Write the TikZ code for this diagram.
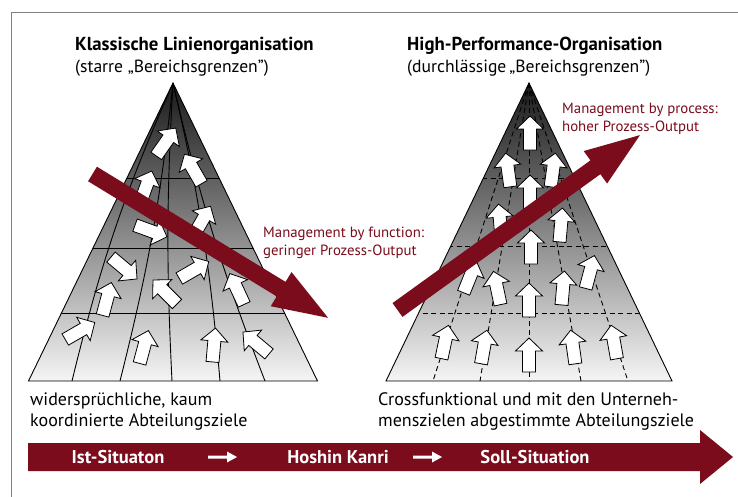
\documentclass[tikz,border=0pt]{standalone}
\usepackage{fontspec}
\setmainfont{PT Sans}
\usetikzlibrary{calc}
\definecolor{wine}{RGB}{122,12,28}
\definecolor{framegray}{RGB}{128,128,128}
\tikzset{
  barrow/.pic={\filldraw[fill=white,draw=black,line width=0.8pt]
     (-6.5,17) -- (-6.5,-4) -- (-13.5,-4) -- (0,-17) -- (13.5,-4) -- (6.5,-4) -- (6.5,17) -- cycle;},
  gridline/.style={black,line width=0.9pt},
  dgrid/.style={black,line width=0.9pt,dash pattern=on 5pt off 3.5pt},
  titletxt/.style={anchor=base west,inner sep=0pt,font=\fontsize{18.8}{22}\selectfont\bfseries},
  subtxt/.style={anchor=base west,inner sep=0pt,font=\fontsize{17.6}{21}\selectfont},
  bottxt/.style={anchor=base west,inner sep=0pt,align=left,font=\fontsize{18}{21}\selectfont},
  redtxt/.style={anchor=base west,inner sep=0pt,align=left,text=wine,font=\fontsize{14.8}{18.5}\selectfont},
  bartxt/.style={anchor=base,inner sep=0pt,text=white,font=\fontsize{18.5}{21}\selectfont\bfseries},
}
\begin{document}
\begin{tikzpicture}[x=1pt,y=-1pt]
\useasboundingbox (0,0) rectangle (738,497);
\fill[white] (0,0) rectangle (738,497);
% frame
\draw[framegray,line width=1.3pt] (11.5,497) -- (11.5,12.5) -- (738,12.5);

% ---------- left pyramid ----------
\coordinate (LA) at (173,83);
\coordinate (LBl) at (28.5,381);
\coordinate (LBr) at (317.5,381);
\shade[top color=black!90,bottom color=black!4] (LA) -- (LBr) -- (LBl) -- cycle;
\begin{scope}
\clip (LA) -- (LBr) -- (LBl) -- cycle;
\draw[gridline] (20,178) -- (330,178);
\draw[gridline] (20,248) -- (330,248);
\draw[gridline] (20,313) -- (330,313);
\draw[gridline] (LA) to[bend right=5] (72,381);
\draw[gridline] (LA) to[bend left=4] (120,381);
\draw[gridline] (LA) to[bend right=3] (172,381);
\draw[gridline] (LA) to[bend left=4] (220,381);
\draw[gridline] (LA) to[bend right=4] (265,381);
\end{scope}
\draw[black,line width=0.9pt] (LA) -- (LBr) -- (LBl) -- cycle;

% arrows in left pyramid (negative = tilted right on screen)
\pic[rotate=-35] at (166,142) {barrow};
\pic[rotate=30] at (193,169) {barrow};
\pic[rotate=-20] at (146,187) {barrow};
\pic[rotate=-110] at (151,231) {barrow};
\pic[rotate=-30] at (202,221) {barrow};
\pic[rotate=-130] at (124,268) {barrow};
\pic[rotate=-60] at (194,270) {barrow};
\pic[rotate=45] at (165,292) {barrow};
\pic[rotate=-15] at (107,299) {barrow};
\pic[rotate=25] at (237,289) {barrow};
\pic[rotate=-60] at (80,331) {barrow};
\pic[rotate=-15] at (144,347) {barrow};
\pic[rotate=-5] at (214,345) {barrow};
\pic[rotate=50] at (256,343) {barrow};

% red arrow left
\fill[wine,shift={(92.5,174)},rotate=-31.4]
  (0,-8.5) -- (221,-8.5) -- (221,-20) -- (276,0) -- (221,20) -- (221,8.5) -- (0,8.5) -- cycle;

% ---------- right pyramid ----------
\coordinate (RA) at (529,83);
\coordinate (RBl) at (386,381);
\coordinate (RBr) at (672,381);
\shade[top color=black!90,bottom color=black!4] (RA) -- (RBr) -- (RBl) -- cycle;
\begin{scope}
\clip (RA) -- (RBr) -- (RBl) -- cycle;
\draw[dgrid] (380,178) -- (680,178);
\draw[dgrid] (380,246) -- (680,246);
\draw[dgrid] (380,313) -- (680,313);
\draw[dgrid] (RA) -- (433,381);
\draw[dgrid] (RA) -- (480,381);
\draw[dgrid] (RA) -- (529,381);
\draw[dgrid] (RA) -- (581,381);
\draw[dgrid] (RA) -- (628,381);
\end{scope}
\draw[black,line width=0.9pt] (RA) -- (RBr) -- (RBl) -- cycle;

% arrows in right pyramid
\pic at (530,133) {barrow};
\pic[rotate=8] at (508,170) {barrow};
\pic[rotate=-8] at (553,170) {barrow};
\pic at (530,192) {barrow};
\pic[rotate=5] at (500,221) {barrow};
\pic[rotate=-5] at (561,225) {barrow};
\pic at (531,247) {barrow};
\pic[rotate=-22] at (470,277) {barrow};
\pic[rotate=12] at (497,288) {barrow};
\pic at (529,300) {barrow};
\pic[rotate=-5] at (563,288) {barrow};
\pic[rotate=-15] at (590,272) {barrow};
\pic[rotate=-12] at (445,342) {barrow};
\pic[rotate=-10] at (484,347) {barrow};
\pic at (529,355) {barrow};
\pic[rotate=8] at (573,347) {barrow};
\pic[rotate=10] at (614,342) {barrow};

% red arrow right
\fill[wine,shift={(397.5,310)},rotate=35.8]
  (0,-8.5) -- (244,-8.5) -- (244,-20) -- (299,0) -- (244,20) -- (244,8.5) -- (0,8.5) -- cycle;

% ---------- texts ----------
\node[titletxt] (t1) at (75,50.5) {Klassische Linienorganisation};
\node[subtxt] (s1) at (75,72.5) {(starre „Bereichsgrenzen”)};
\node[titletxt] (t2) at (407,50.5) {High-Performance-Organisation};
\node[subtxt] (s2) at (407,72.5) {(durchlässige\,„Bereichsgrenzen”)};

\node[redtxt] (r1) at (263,255.5) {Management by function:\\geringer Prozess-Output};
\node[redtxt] (r2) at (562,132) {Management by process:\\hoher Prozess-Output};

\node[bottxt] (b1) at (30,426) {widersprüchliche, kaum\\koordinierte Abteilungsziele};
\node[bottxt] (b2) at (378,426) {Crossfunktional und mit den Unterneh-\\menszielen abgestimmte Abteilungsziele};

% ---------- bottom bar ----------
\fill[wine] (28,443) -- (700,443) -- (700,430) -- (733,457) -- (700,484) -- (700,471) -- (28,471) -- cycle;
\node[bartxt] (p1) at (118,463.5) {Ist-Situaton};
\node[bartxt] (p2) at (338,463.5) {Hoshin Kanri};
\node[bartxt] (p3) at (535,463.5) {Soll-Situation};
\fill[white] (208,455.5) -- (227,455.5) -- (227,451.5) -- (237,457) -- (227,462.5) -- (227,458.5) -- (208,458.5) -- cycle;
\fill[white] (413,455.5) -- (432,455.5) -- (432,451.5) -- (442,457) -- (432,462.5) -- (432,458.5) -- (413,458.5) -- cycle;
\end{tikzpicture}
\end{document}
